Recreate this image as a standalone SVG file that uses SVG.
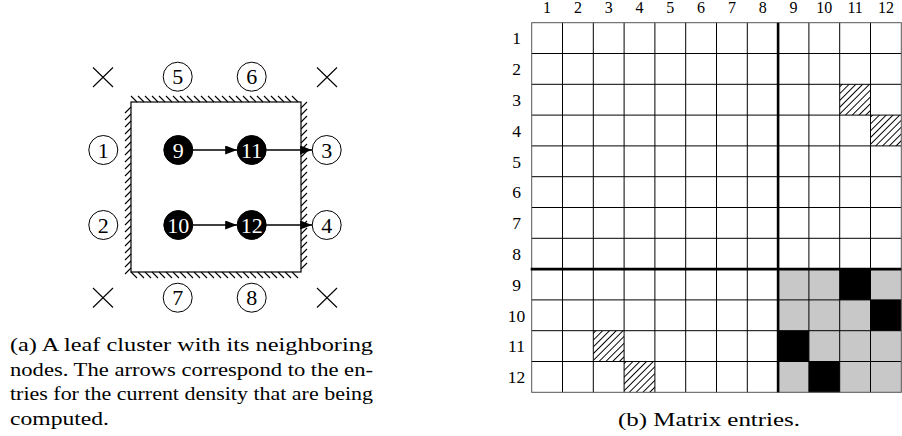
<svg xmlns="http://www.w3.org/2000/svg" width="902" height="436" viewBox="0 0 902 436">
<style>
text{font-family:"Liberation Serif","Times New Roman",serif;fill:#000}
.lbl{font-size:22px;text-anchor:middle}
.wl{fill:#fff}
.wc{fill:#fff;stroke:#000;stroke-width:1}
.bc{fill:#000;stroke:#000;stroke-width:1}
.x{stroke:#000;stroke-width:1.1;fill:none}
.hatch{stroke:#000;stroke-width:1.1;fill:none}
.edge{stroke:#000;stroke-width:1.3;fill:none}
.grid{stroke:#000;stroke-width:1;fill:none}
.thick{stroke:#000;stroke-width:2.6;fill:none}
.col{font-size:16px;text-anchor:middle}
.row{font-size:17.5px;text-anchor:middle}
.cap{font-size:19px}
</style>
<defs>
<marker id="ah" viewBox="0 0 12 9" refX="12" refY="4.5" markerWidth="12" markerHeight="9" markerUnits="userSpaceOnUse" orient="auto">
<path d="M0 0L12 4.5L0 9z" fill="#000"/>
</marker>
<pattern id="hp" patternUnits="userSpaceOnUse" width="4.8" height="10" patternTransform="rotate(45)">
<line x1="2.4" y1="0" x2="2.4" y2="10" stroke="#000" stroke-width="1"/>
</pattern>
</defs>

<!-- Left: leaf cluster -->
<g id="cluster">
<rect x="131" y="102" width="170" height="170" fill="none" stroke="#000" stroke-width="1.2"/>
<path class="hatch" d="M131 96l6 6M138 96l6 6M145 96l6 6M152 96l6 6M159 96l6 6M166 96l6 6M173 96l6 6M180 96l6 6M187 96l6 6M194 96l6 6M201 96l6 6M208 96l6 6M215 96l6 6M222 96l6 6M229 96l6 6M236 96l6 6M243 96l6 6M250 96l6 6M257 96l6 6M264 96l6 6M271 96l6 6M278 96l6 6M285 96l6 6M292 96l6 6"/>
<path class="hatch" d="M131 272l6 6M138 272l6 6M145 272l6 6M152 272l6 6M159 272l6 6M166 272l6 6M173 272l6 6M180 272l6 6M187 272l6 6M194 272l6 6M201 272l6 6M208 272l6 6M215 272l6 6M222 272l6 6M229 272l6 6M236 272l6 6M243 272l6 6M250 272l6 6M257 272l6 6M264 272l6 6M271 272l6 6M278 272l6 6M285 272l6 6M292 272l6 6"/>
<path class="hatch" d="M125 113l6-6M125 120l6-6M125 127l6-6M125 134l6-6M125 141l6-6M125 148l6-6M125 155l6-6M125 162l6-6M125 169l6-6M125 176l6-6M125 183l6-6M125 190l6-6M125 197l6-6M125 204l6-6M125 211l6-6M125 218l6-6M125 225l6-6M125 232l6-6M125 239l6-6M125 246l6-6M125 253l6-6M125 260l6-6M125 267l6-6M125 274l6-6"/>
<path class="hatch" d="M301 108l6-6M301 115l6-6M301 122l6-6M301 129l6-6M301 136l6-6M301 143l6-6M301 150l6-6M301 157l6-6M301 164l6-6M301 171l6-6M301 178l6-6M301 185l6-6M301 192l6-6M301 199l6-6M301 206l6-6M301 213l6-6M301 220l6-6M301 227l6-6M301 234l6-6M301 241l6-6M301 248l6-6M301 255l6-6M301 262l6-6M301 269l6-6"/>
</g>

<g id="x-marks">
<path class="x" d="M93 67.5l20 19.5M113 67.5l-20 19.5M317 67.5l20 19.5M337 67.5l-20 19.5M93 288l20 19.5M113 288l-20 19.5M317 288l20 19.5M337 288l-20 19.5"/>
</g>

<g id="connectors">
<line class="edge" x1="192.8" y1="150" x2="237.2" y2="150" marker-end="url(#ah)"/>
<line class="edge" x1="266.2" y1="150" x2="312.2" y2="150" marker-end="url(#ah)"/>
<line class="edge" x1="192.8" y1="225" x2="237.2" y2="225" marker-end="url(#ah)"/>
<line class="edge" x1="266.2" y1="225" x2="312.2" y2="225" marker-end="url(#ah)"/>
</g>

<g id="n1"><circle class="wc" cx="103.3" cy="150" r="14.5"/><text class="lbl" x="103.3" y="157.5">1</text></g>
<g id="n2"><circle class="wc" cx="103.3" cy="225" r="14.5"/><text class="lbl" x="103.3" y="232.5">2</text></g>
<g id="n3"><circle class="wc" cx="326.7" cy="150" r="14.5"/><text class="lbl" x="326.7" y="157.5">3</text></g>
<g id="n4"><circle class="wc" cx="326.7" cy="225" r="14.5"/><text class="lbl" x="326.7" y="232.5">4</text></g>
<g id="n5"><circle class="wc" cx="177.7" cy="76.7" r="14.5"/><text class="lbl" x="177.7" y="84.2">5</text></g>
<g id="n6"><circle class="wc" cx="251.7" cy="76.7" r="14.5"/><text class="lbl" x="251.7" y="84.2">6</text></g>
<g id="n7"><circle class="wc" cx="177.7" cy="297.7" r="14.5"/><text class="lbl" x="177.7" y="305.2">7</text></g>
<g id="n8"><circle class="wc" cx="251.7" cy="297.7" r="14.5"/><text class="lbl" x="251.7" y="305.2">8</text></g>
<g id="n9"><circle class="bc" cx="178.3" cy="150" r="14.5"/><text class="lbl wl" x="178.3" y="157.5">9</text></g>
<g id="n10"><circle class="bc" cx="178.3" cy="225" r="14.5"/><text class="lbl wl" x="178.3" y="232.5">10</text></g>
<g id="n11"><circle class="bc" cx="251.7" cy="150" r="14.5"/><text class="lbl wl" x="251.7" y="157.5">11</text></g>
<g id="n12"><circle class="bc" cx="251.7" cy="225" r="14.5"/><text class="lbl wl" x="251.7" y="232.5">12</text></g>

<g id="caption-a">
<text class="cap" x="10" y="351" textLength="363" lengthAdjust="spacingAndGlyphs">(a) A leaf cluster with its neighboring</text>
<text class="cap" x="10" y="375.5" textLength="363" lengthAdjust="spacingAndGlyphs">nodes. The arrows correspond to the en-</text>
<text class="cap" x="10" y="400" textLength="363" lengthAdjust="spacingAndGlyphs">tries for the current density that are being</text>
<text class="cap" x="10" y="424.5" textLength="99" lengthAdjust="spacingAndGlyphs">computed.</text>
</g>

<!-- Right: matrix -->
<g id="matrix">
<rect x="778.1" y="269.1" width="123.2" height="123.2" fill="#c8c8c8"/>
<rect x="839.7" y="269.1" width="30.8" height="30.8" fill="#000"/>
<rect x="870.5" y="299.9" width="30.8" height="30.8" fill="#000"/>
<rect x="778.1" y="330.7" width="30.8" height="30.8" fill="#000"/>
<rect x="808.9" y="361.5" width="30.8" height="30.8" fill="#000"/>
<rect x="839.7" y="84.3" width="30.8" height="30.8" fill="url(#hp)"/>
<rect x="870.5" y="115.1" width="30.8" height="30.8" fill="url(#hp)"/>
<rect x="593.3" y="330.7" width="30.8" height="30.8" fill="url(#hp)"/>
<rect x="624.1" y="361.5" width="30.8" height="30.8" fill="url(#hp)"/>
<path class="grid" d="M562.5 22.7V392.3M593.3 22.7V392.3M624.1 22.7V392.3M654.9 22.7V392.3M685.7 22.7V392.3M716.5 22.7V392.3M747.3 22.7V392.3M808.9 22.7V392.3M839.7 22.7V392.3M870.5 22.7V392.3M531.7 53.5H901.3M531.7 84.3H901.3M531.7 115.1H901.3M531.7 145.9H901.3M531.7 176.7H901.3M531.7 207.5H901.3M531.7 238.3H901.3M531.7 299.9H901.3M531.7 330.7H901.3M531.7 361.5H901.3"/>
<rect x="531.7" y="22.7" width="369.6" height="369.6" fill="none" stroke="#555" stroke-width="1"/>
<path class="thick" d="M778.1 22.7V392.3M530.7 269.1H901.3"/>
</g>

<g id="col-labels">
<text class="col" x="547.1" y="13">1</text>
<text class="col" x="577.9" y="13">2</text>
<text class="col" x="608.7" y="13">3</text>
<text class="col" x="639.5" y="13">4</text>
<text class="col" x="670.3" y="13">5</text>
<text class="col" x="701.1" y="13">6</text>
<text class="col" x="731.9" y="13">7</text>
<text class="col" x="762.7" y="13">8</text>
<text class="col" x="793.5" y="13">9</text>
<text class="col" x="824.3" y="13">10</text>
<text class="col" x="855.1" y="13">11</text>
<text class="col" x="885.9" y="13">12</text>
</g>
<g id="row-labels">
<text class="row" x="516.5" y="44.3">1</text>
<text class="row" x="516.5" y="75.1">2</text>
<text class="row" x="516.5" y="105.9">3</text>
<text class="row" x="516.5" y="136.7">4</text>
<text class="row" x="516.5" y="167.5">5</text>
<text class="row" x="516.5" y="198.3">6</text>
<text class="row" x="516.5" y="229.1">7</text>
<text class="row" x="516.5" y="259.9">8</text>
<text class="row" x="516.5" y="290.7">9</text>
<text class="row" x="516.5" y="321.5">10</text>
<text class="row" x="516.5" y="352.3">11</text>
<text class="row" x="516.5" y="383.1">12</text>
</g>

<g id="caption-b">
<text class="cap" x="618" y="425.7" textLength="182" lengthAdjust="spacingAndGlyphs">(b) Matrix entries.</text>
</g>
</svg>
